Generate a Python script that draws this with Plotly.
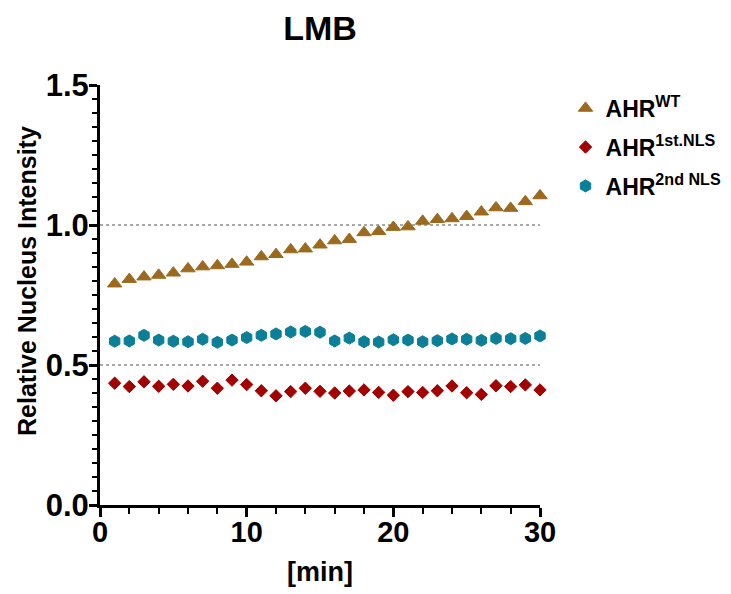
import plotly.graph_objects as go

minutes = list(range(1, 31))
ahr_wt = [0.790, 0.806, 0.815, 0.821, 0.829, 0.844, 0.851, 0.855, 0.860, 0.868,
          0.887, 0.895, 0.912, 0.915, 0.929, 0.944, 0.949, 0.973, 0.977, 0.992,
          0.994, 1.014, 1.020, 1.023, 1.031, 1.047, 1.062, 1.060, 1.084, 1.105]
ahr_1st = [0.435, 0.423, 0.440, 0.424, 0.431, 0.425, 0.442, 0.417, 0.446, 0.430,
           0.408, 0.390, 0.405, 0.417, 0.406, 0.400, 0.407, 0.411, 0.402, 0.392,
           0.405, 0.402, 0.408, 0.425, 0.401, 0.395, 0.426, 0.423, 0.429, 0.411]
ahr_2nd = [0.585, 0.586, 0.606, 0.589, 0.585, 0.583, 0.592, 0.581, 0.589, 0.598,
           0.606, 0.611, 0.618, 0.620, 0.617, 0.586, 0.596, 0.583, 0.582, 0.590,
           0.589, 0.583, 0.587, 0.593, 0.592, 0.588, 0.595, 0.594, 0.595, 0.604]
ref_lines = [0.5, 1.0]

FONT = "Arial, Liberation Sans, Helvetica, sans-serif"

W, H = 723, 586  # page body has an 8px default margin

fig = go.Figure()
series = [
    ("AHR<sup>WT</sup>", ahr_wt, "triangle-up", "#9B6A1E", 12.5),
    ("AHR<sup>1st.NLS</sup>", ahr_1st, "diamond", "#A30000", 9.5),
    ("AHR<sup>2nd NLS</sup>", ahr_2nd, "hexagon", "#0B7F97", 12),
]
for i, (name, vals, sym, col, sz) in enumerate(series):
    fig.add_trace(go.Scatter(
        x=minutes, y=vals, mode="markers", name=name,
        marker=dict(symbol=sym, color=col, size=sz, line=dict(width=1, color=col)),
        cliponaxis=False, legendgroup=f"g{i}",
    ))

for v in ref_lines:
    fig.add_shape(type="line", xref="x", yref="y", x0=0, x1=30, y0=v, y1=v,
                  line=dict(color="#555555", width=1.2, dash="dot"), layer="below")

fig.add_annotation(
    text="Relative Nucleus Intensity", textangle=-90,
    xref="paper", yref="paper", x=(19 - 92) / 440, y=(497 - 273) / 420,
    xanchor="center", yanchor="middle", showarrow=False,
    font=dict(size=25, family=FONT, weight="bold", color="black"),
)

fig.update_layout(
    width=W, height=H,
    margin=dict(l=92, r=191, t=77, b=89, autoexpand=False),
    paper_bgcolor="white", plot_bgcolor="white",
    font=dict(family=FONT, color="black"),
    title=dict(text="LMB", x=312 / W, xanchor="center", y=1 - 20 / H, yanchor="middle",
               xref="container", yref="container",
               font=dict(size=34, family=FONT, weight="bold", color="black")),
    showlegend=True,
    legend=dict(x=1.058, y=0.996, xanchor="left", yanchor="top",
                font=dict(size=23, family=FONT, weight="bold", color="black"),
                tracegroupgap=6, itemwidth=30, bgcolor="rgba(0,0,0,0)"),
    xaxis=dict(
        range=[0, 30], showgrid=False, zeroline=False, automargin=False,
        showline=True, linecolor="black", linewidth=3,
        ticks="outside", tickwidth=3, ticklen=9, tickcolor="black",
        tickvals=[0, 10, 20, 30], ticklabelstandoff=-10,
        tickfont=dict(size=29, family=FONT, weight="bold", color="black"),
        minor=dict(dtick=2, tick0=0, ticks="outside", ticklen=6, tickwidth=2, tickcolor="black", showgrid=False),
        title=dict(text="[min]", standoff=16,
                   font=dict(size=27, family=FONT, weight="bold", color="black")),
    ),
    yaxis=dict(
        range=[0, 1.5], showgrid=False, zeroline=False, automargin=False,
        showline=True, linecolor="black", linewidth=3,
        ticks="outside", tickwidth=3, ticklen=8, tickcolor="black",
        tickvals=[0, 0.5, 1.0, 1.5], ticktext=["0.0", "0.5", "1.0", "1.5"],
        ticklabelstandoff=-6,
        tickfont=dict(size=31, family=FONT, weight="bold", color="black"),
        minor=dict(dtick=0.05, tick0=0, ticks="outside", ticklen=5, tickwidth=2, tickcolor="black", showgrid=False),
    ),
)

fig.write_html("out.html")
